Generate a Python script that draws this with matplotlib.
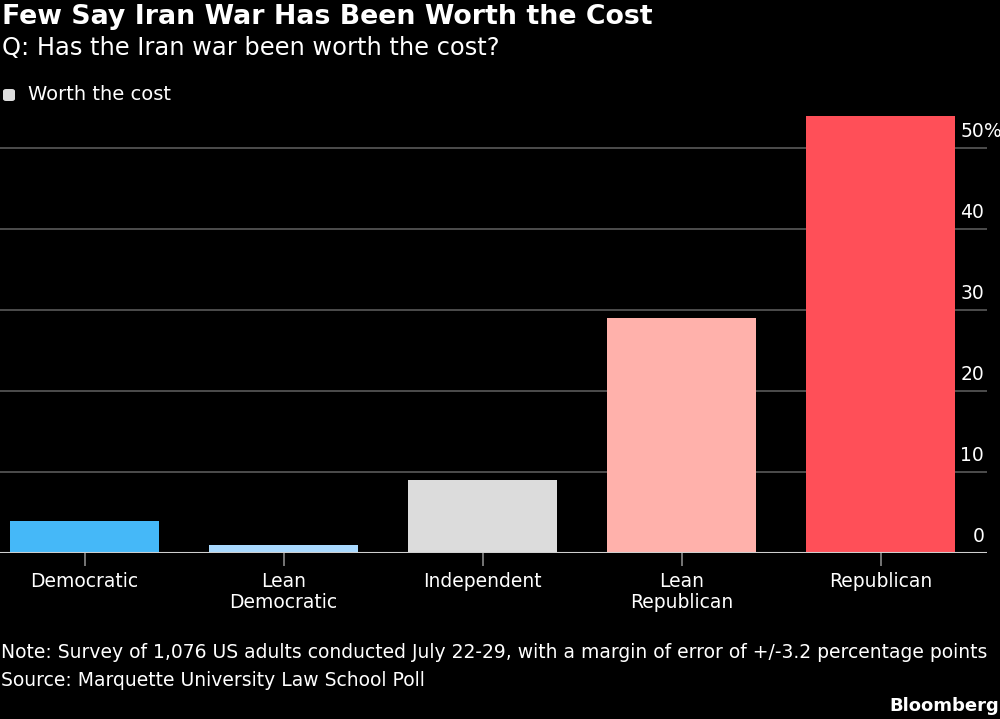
import matplotlib.pyplot as plt
from matplotlib.patches import FancyBboxPatch

categories = ["Democratic", "Lean\nDemocratic", "Independent", "Lean\nRepublican", "Republican"]
worth_cost = [4, 1, 9, 29, 54]
bar_colors = ["#45b8f8", "#a9d9ff", "#dcdcdc", "#ffb1ab", "#ff4f58"]
y_ticks = [0, 10, 20, 30, 40, 50]

plt.rcParams['font.family'] = ['DejaVu Sans']

fig = plt.figure(figsize=(10, 7.19), dpi=100)
fig.patch.set_facecolor("black")

# axes spans from x=0 to ~987px, y from 553 (zero) to top
ax = fig.add_axes([0.0, 1 - 553 / 719, 0.987, (553 - 100) / 719])
ax.set_facecolor("black")

x = range(len(categories))
ax.bar(x, worth_cost, width=0.75, color=bar_colors, zorder=3)

ax.set_xlim(-0.425, 4.535)
ax.set_ylim(0, (553 - 100) / 8.1)

for t in y_ticks[1:]:
    ax.axhline(t, color="#5a5a5a", lw=1.2, zorder=1)
ax.axhline(0, color="#cfcfcf", lw=1.5, zorder=4)

for s in ax.spines.values():
    s.set_visible(False)
ax.set_yticks([])
ax.set_xticks(list(x))
ax.set_xticklabels(categories, color="white", fontsize=13.5, linespacing=1.1)
ax.tick_params(axis="x", length=9, width=1.2, color="#8a8a8a", pad=5)

# right side tick labels sit above the gridlines
for t in y_ticks:
    ax.annotate(str(t), xy=(1.0, t), xycoords=("axes fraction", "data"),
                xytext=(-2, 5), textcoords="offset points", ha="right", va="bottom",
                color="white", fontsize=13.5)
ax.annotate("%", xy=(1.0, 50), xycoords=("axes fraction", "data"),
            xytext=(-2, 5), textcoords="offset points", ha="left", va="bottom",
            color="white", fontsize=13.5)

fig.text(0.002, 1 - 17 / 719, "Few Say Iran War Has Been Worth the Cost", color="white",
         fontsize=19.3, fontweight="bold", va="center", ha="left")
fig.text(0.002, 1 - 48 / 719, "Q: Has the Iran war been worth the cost?", color="white",
         fontsize=17.4, va="center", ha="left")

# legend
sq = FancyBboxPatch((3 / 1000, 1 - 101 / 719), 12 / 1000, 12 / 719,
                    boxstyle="round,pad=0.0,rounding_size=0.003",
                    transform=fig.transFigure, facecolor="#dcdcdc", edgecolor="none")
fig.patches.append(sq)
fig.text(0.028, 1 - 94 / 719, "Worth the cost", color="white", fontsize=14, va="center", ha="left")

fig.text(0.001, 1 - 653 / 719,
         "Note: Survey of 1,076 US adults conducted July 22-29, with a margin of error of +/-3.2 percentage points",
         color="white", fontsize=13.5, va="center", ha="left")
fig.text(0.001, 1 - 680 / 719, "Source: Marquette University Law School Poll",
         color="white", fontsize=13.5, va="center", ha="left")
fig.text(0.999, 1 - 706 / 719, "Bloomberg", color="white", fontsize=13,
         fontweight="bold", va="center", ha="right")

fig.savefig("out.png", dpi=100, facecolor="black")
